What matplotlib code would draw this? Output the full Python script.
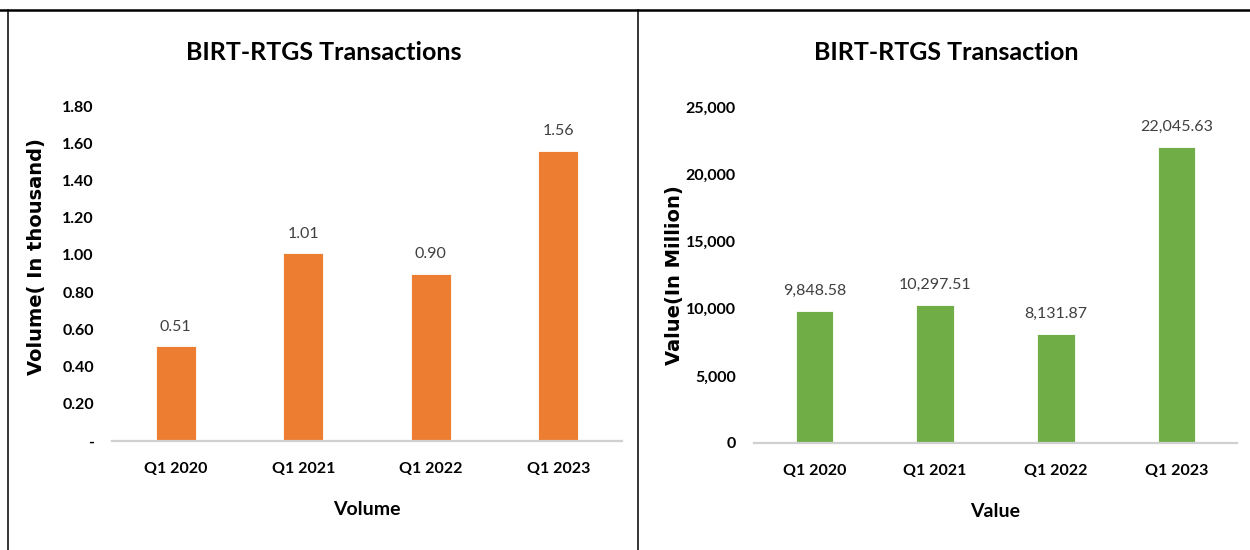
import matplotlib
matplotlib.use("Agg")
from matplotlib import pyplot as plt
from matplotlib.lines import Line2D
from matplotlib.ticker import FuncFormatter

quarters = ["Q1 2020", "Q1 2021", "Q1 2022", "Q1 2023"]
volume = [0.51, 1.01, 0.90, 1.56]
value = [9848.58, 10297.51, 8131.87, 22045.63]
volume_ticks = [0, 0.2, 0.4, 0.6, 0.8, 1.0, 1.2, 1.4, 1.6, 1.8]
value_ticks = [0, 5000, 10000, 15000, 20000, 25000]

FONT = ["Lato", "DejaVu Sans"]
W, H = 1250, 550


def px(x0, y0, x1, y1):
    # pixel box (top-left origin) -> figure fraction rect
    return [x0 / W, 1 - y1 / H, (x1 - x0) / W, (y1 - y0) / H]


def bar_panel(ax, vals, color, ticks, tickfmt, labelfmt, ylabel, xlabel):
    x = range(len(vals))
    bars = ax.bar(x, vals, width=0.31, color=color, edgecolor="white", linewidth=0.6, zorder=2)
    for b, v in zip(bars, vals):
        ax.annotate(labelfmt(v), (b.get_x() + b.get_width() / 2, v),
                    xytext=(0, 9), textcoords="offset points",
                    ha="center", va="bottom", fontsize=11.5,
                    family=FONT, color="#404040")
    ax.set_xlim(-0.5, len(vals) - 0.5)
    ax.set_ylim(ticks[0], ticks[-1])
    ax.set_yticks(ticks)
    ax.yaxis.set_major_formatter(FuncFormatter(tickfmt))
    ax.set_xticks(list(x))
    ax.set_xticklabels(quarters)
    for s in ("top", "right", "left"):
        ax.spines[s].set_visible(False)
    ax.spines["bottom"].set_color("#d0d0d0")
    ax.spines["bottom"].set_linewidth(1.6)
    ax.tick_params(length=0)
    ax.tick_params(axis="y", pad=13)
    ax.tick_params(axis="x", pad=15)
    for t in ax.get_xticklabels() + ax.get_yticklabels():
        t.set_family(FONT)
        t.set_fontweight("bold")
        t.set_fontsize(11.5)
        t.set_color("black")
    ax.set_xlabel(xlabel, family=FONT, fontweight="bold", fontsize=14, labelpad=18)
    ax.set_ylabel(ylabel, family="DejaVu Sans", fontweight="bold", fontsize=14)


fig = plt.figure(figsize=(12.5, 5.5), dpi=100)

ax1 = fig.add_axes(px(112, 106, 622, 441))
bar_panel(ax1, volume, "#ED7D31", volume_ticks,
          lambda v, p: "-" if v == 0 else f"{v:.2f}",
          lambda v: f"{v:.2f}", "Volume( In thousand)", "Volume")
ax1.yaxis.set_label_coords(-0.129, 0.55)

ax2 = fig.add_axes(px(754, 107, 1237, 443))
bar_panel(ax2, value, "#70AD47", value_ticks,
          lambda v, p: f"{v:,.0f}",
          lambda v: f"{v:,.2f}", "Value(In Million)", "Value")
ax2.yaxis.set_label_coords(-0.145, 0.5)

fig.text(324 / W, 1 - 53 / H, "BIRT-RTGS Transactions", ha="center", va="center",
         family=FONT, fontweight="bold", fontsize=18)
fig.text(946 / W, 1 - 53 / H, "BIRT-RTGS Transaction", ha="center", va="center",
         family=FONT, fontweight="bold", fontsize=18)

# panel frames
fig.add_artist(Line2D([0, 1], [1 - 10 / H, 1 - 10 / H], color="black", lw=1.8))
fig.add_artist(Line2D([8 / W, 8 / W], [0, 1 - 10 / H], color="black", lw=1.1))
fig.add_artist(Line2D([638 / W, 638 / W], [0, 1 - 10 / H], color="black", lw=1.1))

fig.savefig("out.png", dpi=100)
